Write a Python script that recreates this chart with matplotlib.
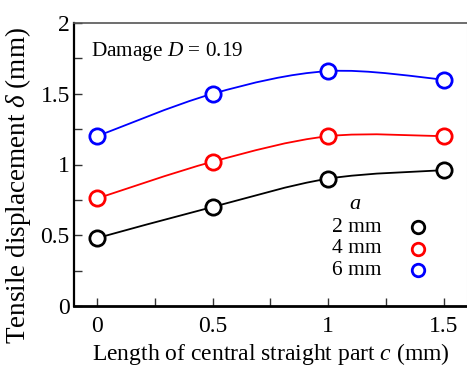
import numpy as np
import matplotlib
matplotlib.use("Agg")
import matplotlib.pyplot as plt
from matplotlib.path import Path
from matplotlib.patches import PathPatch

plt.rcParams['font.family'] = ['Liberation Serif', 'DejaVu Serif']
plt.rcParams['mathtext.fontset'] = 'custom'
plt.rcParams['mathtext.rm'] = 'Liberation Serif'
plt.rcParams['mathtext.it'] = 'Liberation Serif:italic'

c_vals = [0, 0.5, 1.0, 1.5]
a_labels = ['2 mm', '4 mm', '6 mm']
colors = ['black', '#ff0000', '#0000ff']
d_2mm = [0.48, 0.70, 0.90, 0.96]
d_4mm = [0.76, 1.02, 1.20, 1.20]
d_6mm = [1.20, 1.50, 1.66, 1.60]
series = [d_2mm, d_4mm, d_6mm]

fig = plt.figure(figsize=(4.67, 3.67), dpi=100)
ax = fig.add_axes([74/467, 1-306/367, (467-74)/467, (306-23)/367])


def smooth_path(x, y):
    x = np.asarray(x, float); y = np.asarray(y, float)
    n = len(x)
    verts = [(x[0], y[0])]
    codes = [Path.MOVETO]
    for i in range(n - 1):
        p0 = np.array([x[max(i-1, 0)], y[max(i-1, 0)]])
        p1 = np.array([x[i], y[i]])
        p2 = np.array([x[i+1], y[i+1]])
        p3 = np.array([x[min(i+2, n-1)], y[min(i+2, n-1)]])
        c1 = p1 + (p2 - p0) / 6
        c2 = p2 - (p3 - p1) / 6
        verts += [tuple(c1), tuple(c2), tuple(p2)]
        codes += [Path.CURVE4] * 3
    return Path(verts, codes)


for ys, col in zip(series, colors):
    ax.add_patch(PathPatch(smooth_path(c_vals, ys), fill=False, edgecolor=col, lw=1.3, zorder=2))
    ax.plot(c_vals, ys, linestyle='none', marker='o', ms=11, mfc='white', mec=col, mew=2, zorder=3)

ax.set_xlim(-0.1, 1.6)
ax.set_ylim(0, 2)
ax.set_xticks([0, 0.5, 1, 1.5])
ax.set_xticklabels(['0', '0.5', '1', '1.5'])
ax.set_yticks([0, 0.5, 1, 1.5, 2])
ax.set_yticklabels(['0', '0.5', '1', '1.5', '2'])
ax.set_xticks([0.25, 0.75, 1.25], minor=True)
ax.set_yticks([0.25, 0.75, 1.25, 1.75], minor=True)
ax.tick_params(which='both', direction='in', labelsize=17, width=1, color='#333333')
ax.tick_params(which='major', length=6)
ax.tick_params(which='minor', length=6)
ax.tick_params(axis='x', pad=7)
ax.tick_params(axis='y', pad=3)
ax.spines['left'].set_linewidth(1.6)
ax.spines['bottom'].set_linewidth(2.0)
ax.spines['top'].set_color('#555555')
ax.spines['top'].set_linewidth(1.2)
ax.spines['right'].set_color('#dddddd')
ax.spines['right'].set_linewidth(0.8)

ax.set_xlabel('Length of central straight part $\\mathit{c}$ (mm)', fontsize=17, labelpad=3)
ax.set_ylabel('Tensile displacement $\\mathit{\\delta}$ (mm)', fontsize=19.5)
ax.yaxis.set_label_coords(-0.105, 0.424)

ax.text(-0.025, 1.80, 'Damage $\\mathit{D}$ = 0.19', fontsize=15.3, va='center', ha='left')

# legend-like block
lx_text = 1.232
lx_mark = 1.388
ax.text(1.115, 0.714, '$\\mathit{a}$', fontsize=16, ha='center', va='center')
for k, (lab, col) in enumerate(zip(a_labels, colors)):
    yy = 0.558 - k * 0.152
    ax.text(lx_text, yy, lab, fontsize=15.5, ha='right', va='center')
    ax.plot([lx_mark], [yy], linestyle='none', marker='o', ms=9, mfc='white', mec=col, mew=2)

fig.savefig('out.png', dpi=100)
